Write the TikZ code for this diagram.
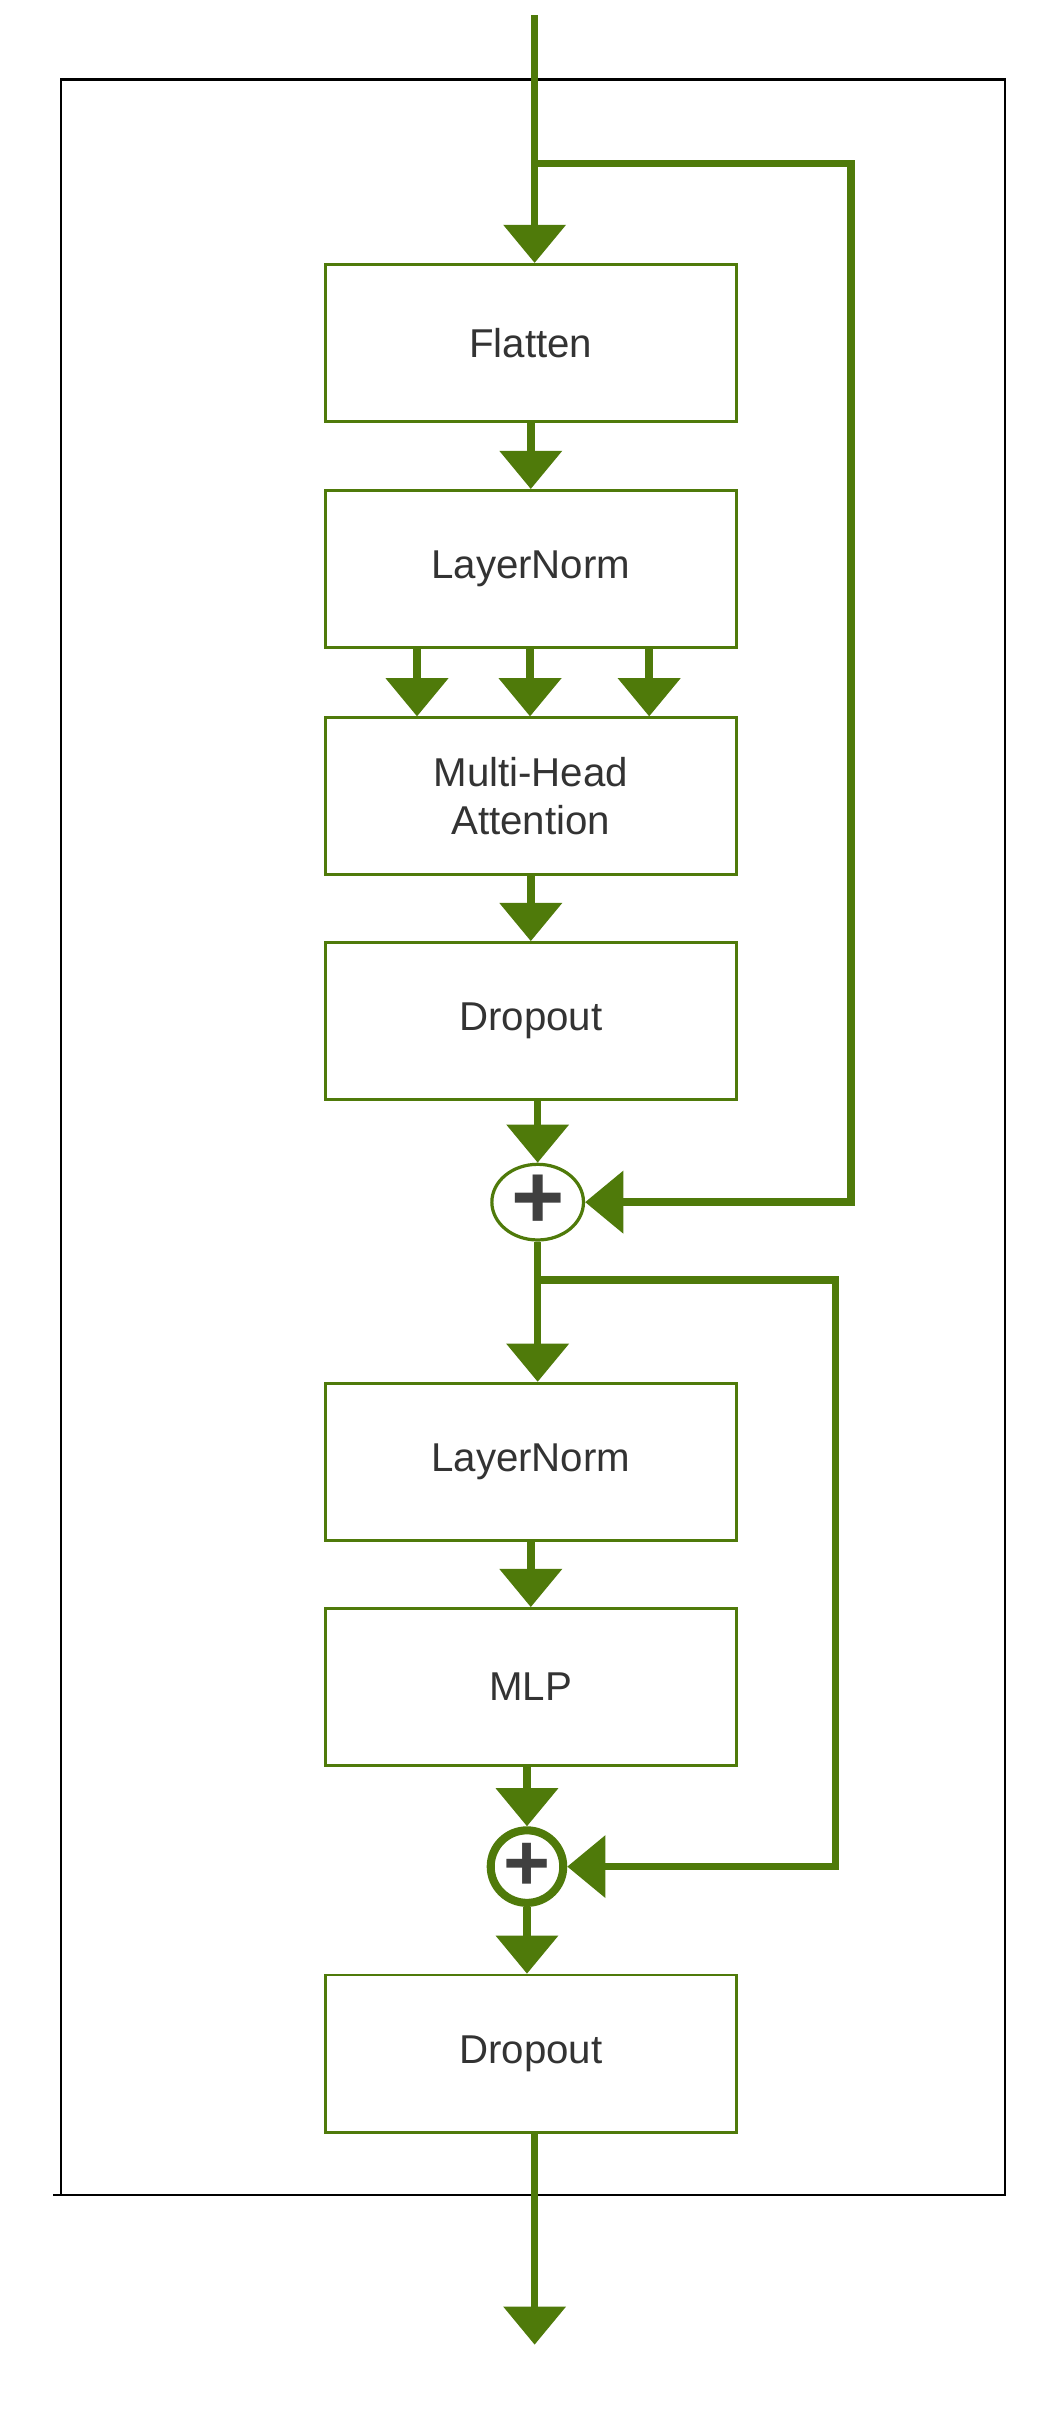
\documentclass[tikz,border=0pt]{standalone}
\usepackage{fontspec}
\setmainfont{Liberation Sans}
\usetikzlibrary{arrows.meta,shapes.geometric}
\definecolor{g}{HTML}{4F7A0A}
\begin{document}
\begin{tikzpicture}[x=0.02cm,y=-0.02cm,
  box/.style={draw=g,line width=1pt,minimum width=5.38cm,minimum height=2.06cm,font=\fontsize{15}{18}\selectfont,text=black!80,align=center},
  fl/.style={draw=g,line width=2.8pt,line join=miter},
  ar/.style={fl,-{Triangle[width=0.8cm,length=0.5cm]}}]
\useasboundingbox (0,0) rectangle (686,1583);
\draw[line width=1pt] (40,52) rectangle (658,1437);
\draw[line width=1pt] (35,1437) -- (40,1437);
\node[box] (f) at (347.5,224.5) {Flatten};
\node[box] (l1) at (347.5,372.5) {LayerNorm};
\node[box] (m) at (347.5,521) {Multi-Head\\Attention};
\node[box] (d1) at (347.5,668.5) {Dropout};
\node[box] (l2) at (347.5,957) {LayerNorm};
\node[box] (mlp) at (347.5,1104.5) {MLP};
\node[box] (d2) at (347.5,1344.5) {Dropout};
\node[draw=g,line width=1.2pt,ellipse,minimum width=1.2cm,minimum height=0.9cm,inner sep=0,font=\fontsize{34}{34}\selectfont\bfseries,text=black!75] (p1) at (352,787) {+};
\node[draw=g,line width=3pt,circle,minimum size=0.95cm,inner sep=0,font=\fontsize{30}{30}\selectfont\bfseries,text=black!75] (p2) at (345,1222) {+};
\coordinate (in) at (350,10);
\coordinate (b1) at (350,107);
\coordinate (b2) at (352,838);
\coordinate (out) at (350,1535);
\draw[ar] (in) -- (f.north -| in);
\draw[ar] (b1) -- (557,107) -- (557,787) -- (p1.east);
\draw[ar] (f) -- (l1);
\draw[ar] (273,424) -- (273,469);
\draw[ar] (347,424) -- (347,469);
\draw[ar] (425,424) -- (425,469);
\draw[ar] (m) -- (d1);
\draw[ar] (d1.south -| p1) -- (p1.north);
\draw[ar] (p1.south) -- (l2.north -| p1);
\draw[ar] (b2) -- (547,838) -- (547,1222) -- (p2.east);
\draw[ar] (l2) -- (mlp);
\draw[ar] (mlp.south -| p2) -- (p2.north);
\draw[ar] (p2.south) -- (d2.north -| p2);
\draw[ar] (d2.south -| out) -- (out);
\end{tikzpicture}
\end{document}
